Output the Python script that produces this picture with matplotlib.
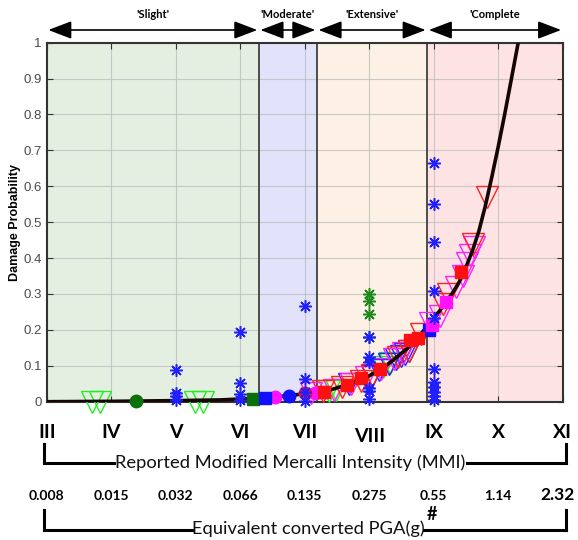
import matplotlib
matplotlib.use("Agg")
import matplotlib.pyplot as plt
import matplotlib.transforms as mtransforms
from matplotlib.lines import Line2D

# ---------------- data ----------------
mmi_ticks = [3, 4, 5, 6, 7, 8, 9, 10, 11]
mmi_labels = ["III", "IV", "V", "VI", "VII", "VIII", "IX", "X", "XI"]
pga_labels = ["0.008", "0.015", "0.032", "0.066", "0.135", "0.275", "0.55", "1.14", "2.32"]

state_names = ["'Slight'", "'Moderate'", "'Extensive'", "'Complete"]
state_edges = [3.0, 6.29, 7.19, 8.90, 11.0]
state_colors = ["#e4efe2", "#e2e2fa", "#fcf1e4", "#fde3e4"]

curve_mmi = [3.0, 4.0, 5.0, 5.7, 6.3, 6.7, 7.0, 7.35, 7.7, 8.0, 8.2, 8.4, 8.6,
             8.75, 8.9, 9.0, 9.1, 9.2, 9.3, 9.4, 9.5, 9.6, 9.7, 9.8, 9.9, 10.0,
             10.1, 10.2, 10.31]
curve_p = [0.0, 0.001, 0.003, 0.005, 0.010, 0.016, 0.022, 0.030, 0.050, 0.072,
           0.092, 0.120, 0.150, 0.178, 0.210, 0.232, 0.255, 0.280, 0.305, 0.335,
           0.375, 0.420, 0.475, 0.545, 0.625, 0.710, 0.800, 0.895, 1.0]

# blue asterisks
star_blue_x = [5, 5, 5, 5, 6, 6, 6, 6, 7, 7, 7, 7, 8, 8, 8, 8, 8, 8,
               9, 9, 9, 9, 9, 9, 9, 9, 9, 9, 9]
star_blue_y = [0.088, 0.025, 0.016, 0.005, 0.195, 0.053, 0.022, 0.005,
               0.267, 0.062, 0.028, 0.002, 0.180, 0.125, 0.110, 0.037, 0.030, 0.008,
               0.664, 0.551, 0.446, 0.309, 0.232, 0.090, 0.056, 0.042, 0.028, 0.016, 0.005]
# green asterisks
star_green_x = [8, 8, 8, 8]
star_green_y = [0.300, 0.280, 0.244, 0.180]

# open triangles
tri_green_x = [3.70, 3.83, 5.30, 5.43, 7.38, 7.48, 8.22, 8.32]
tri_green_y = [0.0, 0.0, 0.0, 0.0, 0.030, 0.032, 0.098, 0.108]
tri_blue_x = [8.05, 8.15, 8.30, 8.42, 8.50, 8.56, 8.62, 7.68]
tri_blue_y = [0.072, 0.088, 0.105, 0.118, 0.126, 0.133, 0.142, 0.048]
tri_magenta_x = [7.10, 7.45, 7.72, 7.95, 8.18, 8.38, 8.52, 8.95, 9.10, 9.35, 9.45,
                 9.52, 9.57, 9.62]
tri_magenta_y = [0.025, 0.032, 0.050, 0.068, 0.092, 0.118, 0.135, 0.220, 0.240, 0.320,
                 0.350, 0.385, 0.410, 0.430]
tri_red_x = [7.28, 7.58, 7.88, 8.05, 8.45, 8.62, 8.80, 9.15, 9.22, 9.61, 9.82]
tri_red_y = [0.030, 0.040, 0.058, 0.075, 0.125, 0.142, 0.188, 0.272, 0.300, 0.440, 0.570]

# filled circles
circ_green_x, circ_green_y = [4.39], [0.002]
circ_magenta_x, circ_magenta_y = [6.54, 7.16], [0.012, 0.025]
circ_blue_x, circ_blue_y = [6.76], [0.016]
circ_red_x, circ_red_y = [7.00], [0.024]

# filled squares
sq_green_x, sq_green_y = [6.20], [0.008]
sq_blue_x, sq_blue_y = [6.38, 8.92], [0.010, 0.200]
sq_magenta_x, sq_magenta_y = [7.25, 9.19, 8.98], [0.026, 0.279, 0.215]
sq_red_x, sq_red_y = [7.30, 7.65, 7.88, 8.17, 8.63, 8.76, 9.42], [0.028, 0.047, 0.065, 0.090, 0.172, 0.177, 0.360]

# ---------------- figure ----------------
W, H = 578, 540
fig = plt.figure(figsize=(W / 100, H / 100), dpi=100)
ax = fig.add_axes([46.7 / W, 1 - 401.7 / H, (562.7 - 46.7) / W, (401.7 - 42.7) / H])

for i in range(4):
    ax.axvspan(state_edges[i], state_edges[i + 1], color=state_colors[i], zorder=0, lw=0)
for e in state_edges[1:4]:
    ax.axvline(e, color="#404040", lw=1.3, zorder=1)

ax.set_xlim(3, 11)
ax.set_ylim(0, 1)
ax.set_xticks(mmi_ticks)
ax.set_xticklabels([])
ax.set_yticks([i / 10 for i in range(11)])
ax.set_yticklabels(["0", "0.1", "0.2", "0.3", "0.4", "0.5", "0.6", "0.7", "0.8", "0.9", "1"])
ax.tick_params(axis="y", labelsize=9.5, labelcolor="#4a4a4a", direction="in", length=4,
               right=True, color="#333333")
ax.tick_params(axis="x", direction="in", length=4, top=True, color="#333333")
for lab in ax.get_yticklabels():
    lab.set_family("Liberation Sans")
ax.grid(True, color="#b8b8b8", lw=0.8, alpha=0.7, zorder=0.5)
ax.set_axisbelow(True)
for s in ax.spines.values():
    s.set_color("#333333")
    s.set_linewidth(1.5)
ax.set_ylabel("Damage Probability", fontsize=9, fontweight="bold",
              family="Liberation Sans", labelpad=2)

ms_tri = 15.5
kw_tri = dict(linestyle="none", marker="v", markersize=ms_tri, markerfacecolor="none",
              markeredgewidth=1.0, zorder=4, clip_on=False)

ax.plot(tri_green_x, tri_green_y, markeredgecolor="#22ee22", **kw_tri)
ax.plot(tri_blue_x, tri_blue_y, markeredgecolor="#2222ff", **kw_tri)
ax.plot(tri_magenta_x, tri_magenta_y, markeredgecolor="#ff22ff", **kw_tri)
ax.plot(tri_red_x, tri_red_y, markeredgecolor="#ff2222", **kw_tri)

ax.plot(curve_mmi, curve_p, color="#150505", lw=2.6, zorder=5, solid_capstyle="round",
        solid_joinstyle="round")

kw_c = dict(linestyle="none", marker="o", markersize=9, zorder=6, clip_on=False)
ax.plot(circ_green_x, circ_green_y, color="#0a700a", **kw_c)
ax.plot(circ_magenta_x, circ_magenta_y, color="#ff10ff", **kw_c)
ax.plot(circ_blue_x, circ_blue_y, color="#1010ff", **kw_c)
ax.plot(circ_red_x, circ_red_y, color="#ee1030", **kw_c)

kw_s = dict(linestyle="none", marker="s", markersize=8, zorder=6, clip_on=False)
ax.plot(sq_green_x, sq_green_y, color="#0a700a", **kw_s)
ax.plot(sq_blue_x, sq_blue_y, color="#1010ff", **kw_s)
ax.plot(sq_magenta_x, sq_magenta_y, color="#ff10ff", **kw_s)
ax.plot(sq_red_x, sq_red_y, color="#ff1010", **kw_s)

kw_st = dict(linestyle="none", marker=(8, 2, 0), markersize=9, markeredgewidth=1.1,
             zorder=7, clip_on=False)
ax.plot(star_green_x, star_green_y, color="#1c8a1c", **kw_st)
ax.plot(star_blue_x, star_blue_y, color="#2020ff", **kw_st)

# ---------------- damage-state arrows ----------------
arrow_y = (401.7 - 30) / (401.7 - 42.7)
label_y = (401.7 - 14) / (401.7 - 42.7)
pad = 0.025
for i, name in enumerate(state_names):
    x0 = state_edges[i] + pad
    x1 = state_edges[i + 1] - pad
    ax.annotate("", xy=(x1, arrow_y), xytext=(x0, arrow_y),
                xycoords=("data", "axes fraction"), textcoords=("data", "axes fraction"),
                annotation_clip=False,
                arrowprops=dict(arrowstyle="<|-|>,head_length=1.1,head_width=0.42",
                                color="black", lw=1.2, shrinkA=0, shrinkB=0,
                                mutation_scale=13))
    ax.text((x0 + x1) / 2, label_y, name, transform=ax.get_xaxis_transform(),
            ha="center", va="center", fontsize=8, fontweight="bold",
            family="Lato", clip_on=False)

# ---------------- lower axes annotations ----------------
blend = mtransforms.blended_transform_factory(ax.transData, fig.transFigure)


def fy(py):
    return 1 - py / H


for t, lab in zip(mmi_ticks, mmi_labels):
    yy = 436 if lab == "VIII" else 432
    fig.text(t, fy(yy), lab, transform=blend, ha="center", va="center",
             fontsize=14, fontweight="bold", family="Lato")

for t, lab in zip(mmi_ticks, pga_labels):
    if lab == "2.32":
        fig.text(575 / W, fy(495), lab, ha="right", va="center",
                 fontsize=12.5, fontweight="bold", family="Lato")
    else:
        fig.text(t, fy(496), lab, transform=blend, ha="center", va="center",
                 fontsize=10, fontweight="bold", family="Lato")

lw_b = 2.2


def bracket(y_top, y_line, x_text0, x_text1):
    pts = [(44, y_top, 44, y_line), (44, y_line, x_text0, y_line),
           (x_text1, y_line, 566, y_line), (566, y_line, 566, y_top)]
    for a, b, c, d in pts:
        fig.add_artist(Line2D([a / W, c / W], [fy(b), fy(d)], color="black", lw=lw_b,
                              transform=fig.transFigure))


bracket(444, 463, 114, 467)
fig.text(290.5 / W, fy(463), "Reported Modified Mercalli Intensity (MMI)", ha="center",
         va="center", fontsize=13.2, family="Lato", color="#111111")
bracket(510, 530, 193, 424)
fig.text(308.5 / W, fy(529), "Equivalent converted PGA(g)", ha="center", va="center",
         fontsize=13.2, family="Lato", color="#111111")
fig.text(432 / W, fy(515), "#", ha="center", va="center", fontsize=13, fontweight="bold",
         family="Lato")

fig.savefig("out.png", dpi=100, facecolor="white")
